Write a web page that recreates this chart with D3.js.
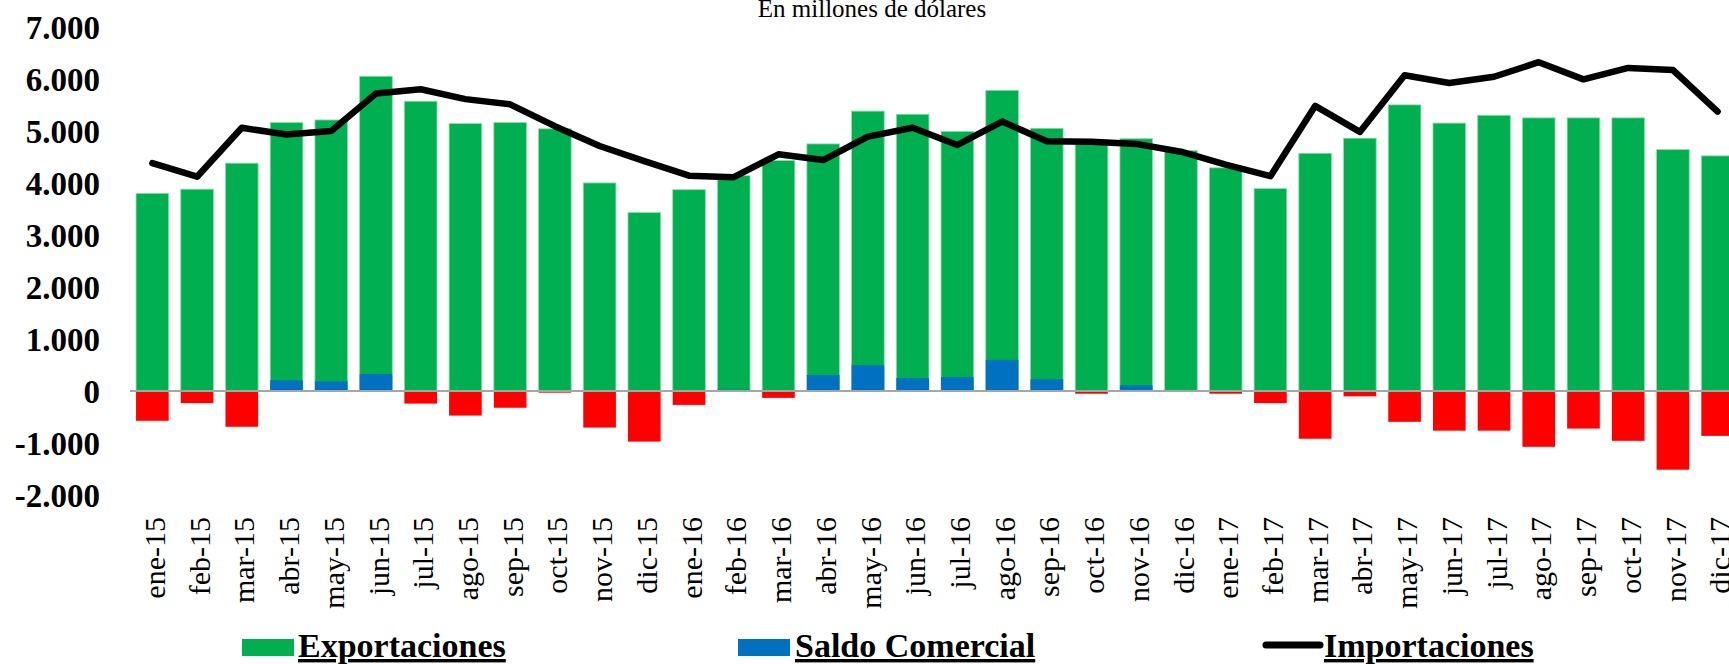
<!DOCTYPE html>
<html>
<head>
<meta charset="utf-8">
<script src="https://cdn.jsdelivr.net/npm/d3@7"></script>
<style>
  body { margin: 0; background: #fff; overflow: hidden; }
  text { font-family: "Liberation Serif", "Times New Roman", serif; }
</style>
</head>
<body>
<svg width="1729" height="664"></svg>
<script>
var meses = ["ene-15","feb-15","mar-15","abr-15","may-15","jun-15","jul-15","ago-15","sep-15","oct-15","nov-15","dic-15",
             "ene-16","feb-16","mar-16","abr-16","may-16","jun-16","jul-16","ago-16","sep-16","oct-16","nov-16","dic-16",
             "ene-17","feb-17","mar-17","abr-17","may-17","jun-17","jul-17","ago-17","sep-17","oct-17","nov-17","dic-17"];

var exportaciones = [3800,3880,4380,5160,5210,6050,5570,5140,5160,5040,4000,3430,
                     3870,4140,4430,4750,5380,5320,4990,5780,5050,4750,4850,4620,
                     4290,3890,4570,4860,5500,5150,5300,5250,5250,5250,4640,4520];

var importaciones = [4380,4120,5060,4930,5000,5720,5800,5610,5510,5090,4710,4420,
                     4140,4110,4550,4440,4890,5060,4730,5180,4800,4790,4750,4600,
                     4350,4130,5480,4980,6070,5920,6040,6320,5990,6210,6170,5370];

var saldo = [-570,-230,-685,210,190,330,-240,-470,-320,-30,-700,-970,
             -265,30,-130,310,500,250,270,600,230,-50,110,20,
             -50,-230,-915,-100,-590,-760,-760,-1070,-720,-955,-1510,-860];

var yTicks = [-2000,-1000,0,1000,2000,3000,4000,5000,6000,7000];

var svg = d3.select("svg");

var x = d3.scaleBand()
    .domain(meses)
    .range([130, 1740])
    .paddingInner(0.27)
    .paddingOuter(0.135);

var y = d3.scaleLinear()
    .domain([-2000, 7000])
    .range([495.2, 26.8]);

var loc = d3.formatLocale({decimal: ",", thousands: ".", grouping: [3], currency: ["", ""], minus: "-"});
var fmt = loc.format(",.0f");

// title
svg.append("text")
    .attr("x", 872)
    .attr("y", 17)
    .attr("text-anchor", "middle")
    .attr("font-size", 25)
    .text("En millones de dólares");

// y axis
var yAxis = svg.append("g")
    .attr("transform", "translate(100,0)")
    .call(d3.axisLeft(y).tickValues(yTicks).tickFormat(fmt).tickSize(0).tickPadding(0));
yAxis.select(".domain").remove();
yAxis.selectAll("text")
    .attr("font-family", "Liberation Serif")
    .attr("font-size", 33)
    .attr("font-weight", "bold")
    .attr("fill", "#000")
    .attr("dy", "0.34em");

// exports bars
svg.append("g").selectAll("rect")
    .data(meses)
    .enter().append("rect")
    .attr("x", function(d) { return x(d); })
    .attr("width", x.bandwidth())
    .attr("y", function(d, i) { return y(exportaciones[i]); })
    .attr("height", function(d, i) { return y(0) - y(exportaciones[i]); })
    .attr("fill", "#00b050")
    .attr("stroke", "#8fdcaa")
    .attr("stroke-width", 0.8);

// trade balance bars
svg.append("g").selectAll("rect")
    .data(meses)
    .enter().append("rect")
    .attr("x", function(d) { return x(d); })
    .attr("width", x.bandwidth())
    .attr("y", function(d, i) { return y(Math.max(0, saldo[i])); })
    .attr("height", function(d, i) { return Math.abs(y(saldo[i]) - y(0)); })
    .attr("fill", function(d, i) { return saldo[i] < 0 ? "#ff0000" : "#0070c0"; });

// zero line
svg.append("line")
    .attr("x1", 130)
    .attr("x2", 1729)
    .attr("y1", y(0))
    .attr("y2", y(0))
    .attr("stroke", "#a6a6a6")
    .attr("stroke-width", 2);

// imports line
var line = d3.line()
    .x(function(d, i) { return x(meses[i]) + x.bandwidth() / 2; })
    .y(function(d) { return y(d); });

svg.append("path")
    .datum(importaciones)
    .attr("d", line)
    .attr("fill", "none")
    .attr("stroke", "#000")
    .attr("stroke-width", 6.5)
    .attr("stroke-linejoin", "round")
    .attr("stroke-linecap", "round");

// x axis labels
var xAxis = svg.append("g")
    .attr("transform", "translate(0,517)")
    .call(d3.axisBottom(x).tickSize(0).tickPadding(0));
xAxis.select(".domain").remove();
xAxis.selectAll("text")
    .attr("font-family", "Liberation Serif")
    .attr("font-size", 30)
    .attr("fill", "#000")
    .attr("x", 0)
    .attr("y", 0)
    .attr("dy", "0.42em")
    .attr("text-anchor", "end")
    .attr("transform", "rotate(-90)");

// legend
var legend = svg.append("g");

legend.append("rect")
    .attr("x", 242).attr("y", 639).attr("width", 52).attr("height", 17)
    .attr("fill", "#00b050");
legend.append("text")
    .attr("x", 298).attr("y", 657)
    .attr("font-size", 34).attr("font-weight", "bold")
    .style("text-decoration", "underline")
    .text("Exportaciones");

legend.append("rect")
    .attr("x", 738).attr("y", 639).attr("width", 52).attr("height", 17)
    .attr("fill", "#0070c0");
legend.append("text")
    .attr("x", 795).attr("y", 657)
    .attr("font-size", 34).attr("font-weight", "bold")
    .style("text-decoration", "underline")
    .text("Saldo Comercial");

legend.append("line")
    .attr("x1", 1266).attr("x2", 1320).attr("y1", 645).attr("y2", 645)
    .attr("stroke", "#000").attr("stroke-width", 7)
    .attr("stroke-linecap", "round");
legend.append("text")
    .attr("x", 1324).attr("y", 657)
    .attr("font-size", 34).attr("font-weight", "bold")
    .style("text-decoration", "underline")
    .text("Importaciones");
</script>
</body>
</html>
